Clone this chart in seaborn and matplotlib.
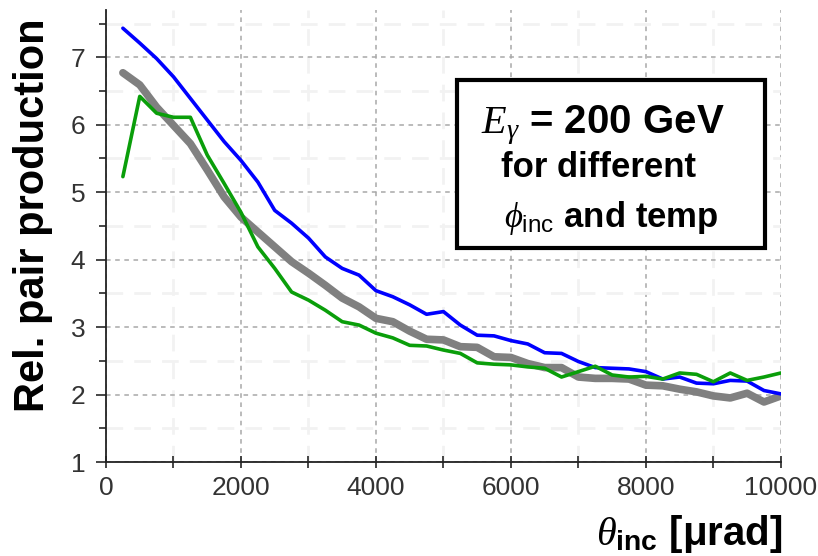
import matplotlib
matplotlib.use("Agg")
import matplotlib.pyplot as plt
import seaborn as sns
from matplotlib.patches import Rectangle
from matplotlib.ticker import MultipleLocator

sns.set_style("white")
plt.rcParams['font.family'] = ['Liberation Sans', 'DejaVu Sans']
plt.rcParams['text.color'] = 'black'
plt.rcParams['mathtext.fontset'] = 'custom'
plt.rcParams['mathtext.rm'] = 'Liberation Sans'
plt.rcParams['mathtext.bf'] = 'Liberation Sans:bold'
plt.rcParams['mathtext.it'] = 'Liberation Serif:italic'

# incidence angle [urad]
theta = [250, 500, 750, 1000, 1250, 1500, 1750, 2000, 2250, 2500,
         2750, 3000, 3250, 3500, 3750, 4000, 4250, 4500, 4750, 5000,
         5250, 5500, 5750, 6000, 6250, 6500, 6750, 7000, 7250, 7500,
         7750, 8000, 8250, 8500, 8750, 9000, 9250, 9500, 9750, 10000]

blue = [7.43, 7.21, 6.98, 6.71, 6.39, 6.07, 5.75, 5.47, 5.15, 4.73,
        4.54, 4.32, 4.04, 3.87, 3.77, 3.54, 3.45, 3.33, 3.19, 3.23,
        3.03, 2.88, 2.87, 2.80, 2.75, 2.62, 2.61, 2.49, 2.40, 2.39,
        2.38, 2.34, 2.23, 2.26, 2.17, 2.16, 2.21, 2.20, 2.06, 2.01]

green = [5.23, 6.42, 6.17, 6.11, 6.11, 5.55, 5.13, 4.70, 4.19, 3.87,
         3.52, 3.40, 3.25, 3.08, 3.03, 2.91, 2.84, 2.73, 2.72, 2.66,
         2.61, 2.47, 2.45, 2.44, 2.41, 2.39, 2.26, 2.34, 2.42, 2.29,
         2.26, 2.27, 2.23, 2.32, 2.30, 2.19, 2.32, 2.21, 2.26, 2.32]

gray = [6.77, 6.59, 6.26, 5.99, 5.72, 5.33, 4.93, 4.63, 4.41, 4.19,
        3.97, 3.80, 3.62, 3.43, 3.30, 3.13, 3.08, 2.94, 2.82, 2.81,
        2.71, 2.70, 2.56, 2.55, 2.46, 2.40, 2.40, 2.26, 2.24, 2.24,
        2.23, 2.14, 2.13, 2.08, 2.04, 1.98, 1.95, 2.02, 1.89, 1.98]

fig = plt.figure(figsize=(8.18, 5.56), dpi=100)
ax = fig.add_axes([0.1296, 0.169, 0.825, 0.813])

sns.lineplot(x=theta, y=gray, color='#808080', lw=5.5, ax=ax, zorder=3)
sns.lineplot(x=theta, y=blue, color='#0000ff', lw=2.6, ax=ax, zorder=4)
sns.lineplot(x=theta, y=green, color='#0a9e0a', lw=2.6, ax=ax, zorder=5)

ax.set_xlim(0, 10000)
ax.set_ylim(1, 7.7)
ax.xaxis.set_major_locator(MultipleLocator(2000))
ax.xaxis.set_minor_locator(MultipleLocator(1000))
ax.yaxis.set_major_locator(MultipleLocator(1))
ax.yaxis.set_minor_locator(MultipleLocator(0.5))

ax.grid(which='major', color='#a8a8a8', linestyle=(0, (3, 3)), lw=1.1)
ax.grid(which='minor', color='#f2f2f2', linestyle=(0, (6, 4)), lw=2)
ax.set_axisbelow(True)

for s in ['top', 'right']:
    ax.spines[s].set_visible(False)
for s in ['left', 'bottom']:
    ax.spines[s].set_color('#222222')
    ax.spines[s].set_linewidth(1.3)

ax.tick_params(axis='y', which='both', direction='out', length=7, width=1.2,
               left=True, labelsize=19, labelcolor='#333333', pad=8)
ax.tick_params(axis='y', which='minor', length=5)
ax.tick_params(axis='x', which='both', direction='inout', length=8, width=1.2,
               bottom=True, labelsize=19, labelcolor='#333333', pad=6)
ax.set_xlabel('')
ax.set_ylabel('')

fig.text(0.040, 0.613, 'Rel. pair production', rotation=90, ha='center',
         va='center', fontsize=30, fontweight='bold')
fig.text(782 / 818, 1 - 545 / 556, r'$\theta_{\mathbf{inc}}$ [μrad]', ha='right',
         va='baseline', fontsize=29, fontweight='bold')

ax.add_patch(Rectangle((0.52, 0.473), 0.456, 0.372, transform=ax.transAxes,
                       fill=True, facecolor='white', edgecolor='black',
                       lw=3, zorder=6))
ax.text(0.736, 0.728, r'$E_\gamma$ = 200 GeV', transform=ax.transAxes,
        ha='center', va='baseline', fontsize=29, fontweight='bold', zorder=7)
ax.text(0.730, 0.631, 'for different', transform=ax.transAxes,
        ha='center', va='baseline', fontsize=25, fontweight='bold', zorder=7)
ax.text(0.748, 0.520, r'$\phi_{\mathrm{inc}}$ and temp', transform=ax.transAxes,
        ha='center', va='baseline', fontsize=25, fontweight='bold', zorder=7)

fig.savefig('out.png', dpi=100)
